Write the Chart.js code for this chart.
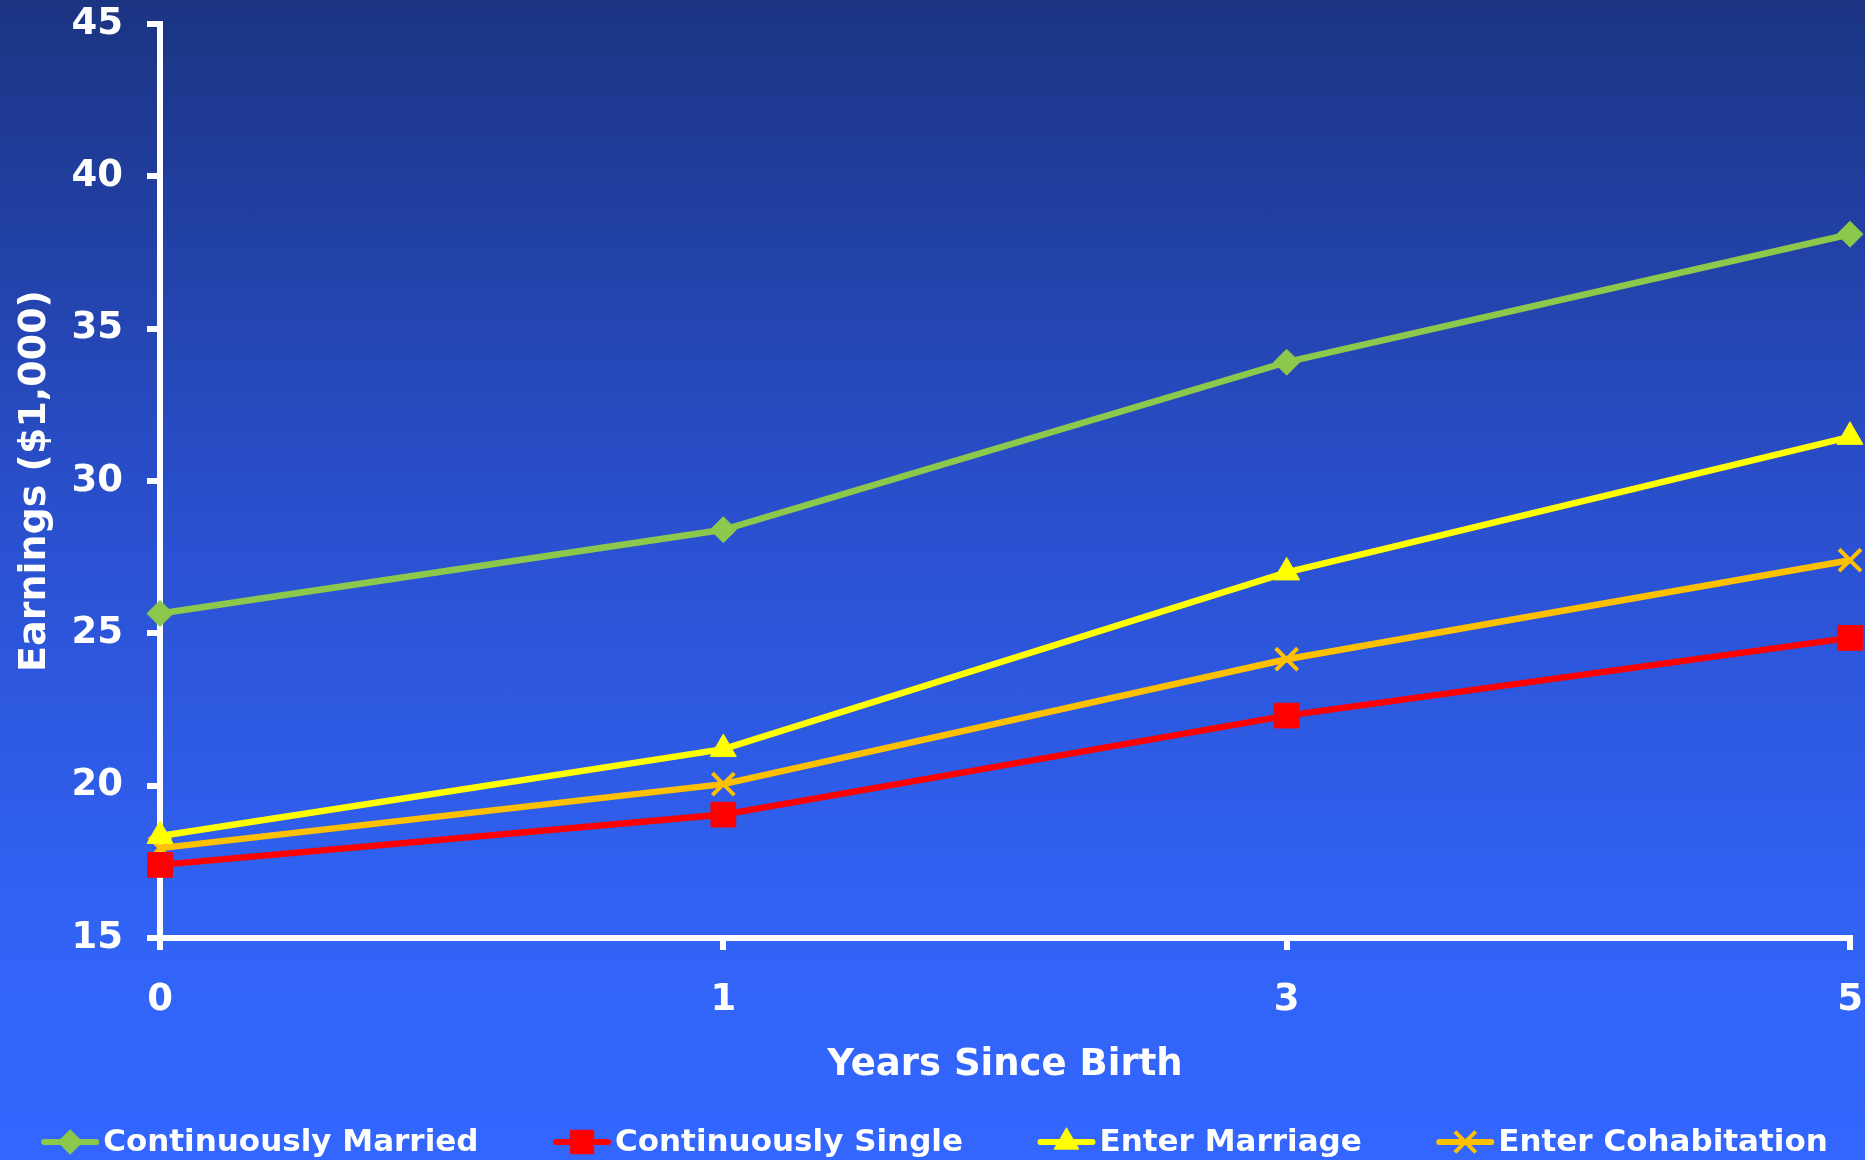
<!DOCTYPE html>
<html>
<head>
<meta charset="utf-8">
<title>Earnings by Years Since Birth</title>
<script src="https://cdn.jsdelivr.net/npm/chart.js@4.4.1/dist/chart.umd.min.js"></script>
<style>
  html, body { margin: 0; padding: 0; }
  body {
    width: 1865px;
    height: 1160px;
    overflow: hidden;
    background: linear-gradient(to bottom, #1b3482 0%, #2a50cf 45%, #3163f5 80%, #3366ff 100%);
  }
  #wrap { position: relative; width: 1865px; height: 1160px; }
</style>
</head>
<body>
<div id="wrap"><canvas id="earningsChart"></canvas></div>
<script>
// data
const years = ['0', '1', '3', '5'];
const continuouslyMarried = [25.65, 28.4, 33.9, 38.1];
const continuouslySingle = [17.4, 19.05, 22.3, 24.85];
const enterMarriage = [18.35, 21.2, 27.0, 31.45];
const enterCohabitation = [17.95, 20.05, 24.15, 27.4];
const yMin = 15;
const yMax = 45;
const yStep = 5;

const fontFamily = '"DejaVu Sans", Verdana, sans-serif';

// legend drawn as line + marker, like the original office chart
const lineLegend = {
    id: 'lineLegend',
    afterDraw(chart, args, opts) {
        const ctx = chart.ctx;
        const sets = chart.data.datasets;
        ctx.save();
        ctx.font = 'bold ' + opts.fontSize + 'px ' + fontFamily;
        const widths = sets.map(ds => opts.iconWidth + opts.textGap + ctx.measureText(ds.label).width);
        const total = widths.reduce((a, b) => a + b, 0) + opts.itemGap * (sets.length - 1);
        let x = (chart.width - total) / 2 + opts.shift;
        const y = opts.y;
        sets.forEach((ds, i) => {
            ctx.strokeStyle = ds.borderColor;
            ctx.lineWidth = 6;
            ctx.lineCap = 'round';
            ctx.beginPath();
            ctx.moveTo(x + 3, y);
            ctx.lineTo(x + opts.iconWidth - 3, y);
            ctx.stroke();
            ctx.lineCap = 'butt';
            ctx.fillStyle = ds.pointBackgroundColor;
            ctx.strokeStyle = ds.pointBorderColor;
            ctx.lineWidth = ds.pointBorderWidth;
            Chart.helpers.drawPoint(ctx, {
                pointStyle: ds.pointStyle,
                radius: ds.pointRadius * 0.95,
                borderWidth: ds.pointBorderWidth,
                rotation: 0
            }, x + opts.iconWidth / 2, y);
            ctx.fillStyle = '#ffffff';
            ctx.textBaseline = 'alphabetic';
            ctx.textAlign = 'left';
            ctx.fillText(ds.label, x + opts.iconWidth + opts.textGap, y + opts.textDrop);
            x += widths[i] + opts.itemGap;
        });
        ctx.restore();
    }
};

function series(label, values, color, style, radius, borderWidth) {
    return {
        label: label,
        data: values,
        borderColor: color,
        backgroundColor: color,
        borderWidth: 6.5,
        pointStyle: style,
        pointRadius: radius,
        pointHoverRadius: radius,
        pointBackgroundColor: color,
        pointBorderColor: color,
        pointBorderWidth: borderWidth,
        tension: 0,
        clip: false
    };
}

const ctx = document.getElementById('earningsChart');
new Chart(ctx, {
    type: 'line',
    data: {
        labels: years,
        datasets: [
            series('Continuously Married', continuouslyMarried, '#8cc84b', 'rectRot', 13, 1),
            series('Continuously Single', continuouslySingle, '#ff0000', 'rect', 17.5, 1),
            series('Enter Marriage', enterMarriage, '#ffff00', 'triangle', 15, 1),
            series('Enter Cohabitation', enterCohabitation, '#ffc000', 'crossRot', 15.5, 4)
        ]
    },
    options: {
        responsive: true,
        maintainAspectRatio: false,
        animation: false,
        events: [],
        layout: { autoPadding: false, padding: { top: 24, bottom: 0, left: 0, right: 15 } },
        font: { family: fontFamily },
        plugins: {
            legend: { display: false },
            tooltip: { enabled: false },
            lineLegend: {
                fontSize: 31,
                iconWidth: 58,
                textGap: 4,
                itemGap: 74.5,
                shift: 2,
                y: 1142,
                textDrop: 9
            }
        },
        scales: {
            x: {
                afterFit(scale) {
                    scale.paddingLeft = 0;
                    scale.paddingRight = 0;
                    scale.height = 222;
                },
                grid: { display: true, drawOnChartArea: false, drawTicks: true, tickLength: 12, color: '#ffffff', lineWidth: 6 },
                border: { display: true, color: '#ffffff', width: 6 },
                ticks: { color: '#ffffff', padding: 28, font: { family: fontFamily, size: 37, weight: 'bold' } },
                title: {
                    display: true,
                    text: 'Years Since Birth',
                    color: '#ffffff',
                    font: { family: fontFamily, size: 37, weight: 'bold' },
                    padding: { top: 0, bottom: 72 }
                }
            },
            y: {
                min: yMin,
                max: yMax,
                afterFit(scale) {
                    scale.paddingTop = 0;
                    scale.paddingBottom = 0;
                    scale.width = 160;
                },
                grid: { display: true, drawOnChartArea: false, drawTicks: true, tickLength: 13, color: '#ffffff', lineWidth: 6 },
                border: { display: true, color: '#ffffff', width: 6 },
                ticks: { stepSize: yStep, color: '#ffffff', padding: 24, font: { family: fontFamily, size: 37, weight: 'bold' } },
                title: {
                    display: true,
                    text: 'Earnings ($1,000)',
                    color: '#ffffff',
                    font: { family: fontFamily, size: 38, weight: 'bold' },
                    padding: { top: 12, bottom: 0 }
                }
            }
        }
    },
    plugins: [lineLegend]
});
</script>
</body>
</html>
